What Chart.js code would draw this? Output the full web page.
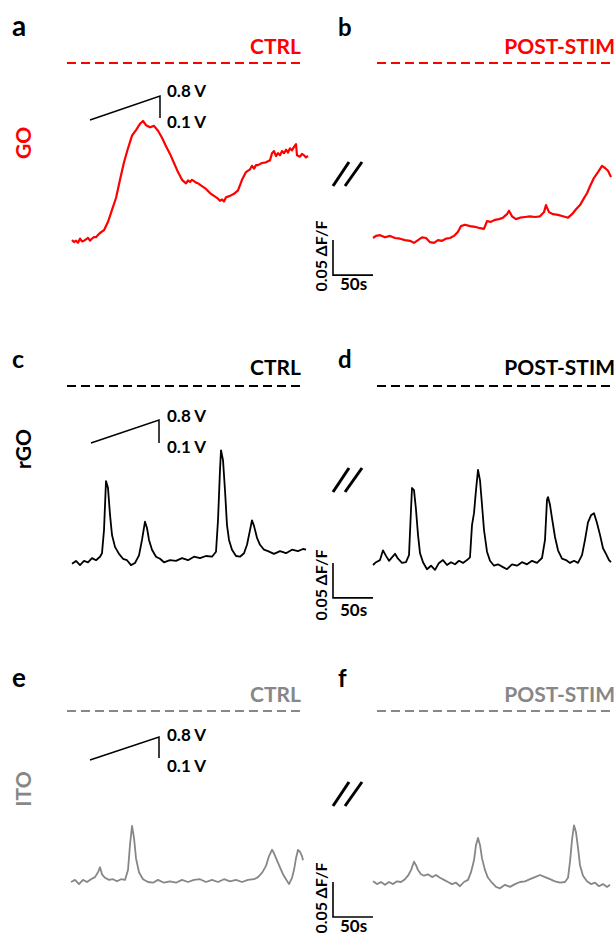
<!DOCTYPE html>
<html><head><meta charset="utf-8">
<script src="https://cdn.jsdelivr.net/npm/chart.js@4.4.1/dist/chart.umd.min.js"></script>
<style>
html,body{margin:0;padding:0;background:#fff;}
body{width:614px;height:936px;overflow:hidden;position:relative;font-family:Lato,"Open Sans",sans-serif;font-weight:700;}
.t{position:absolute;white-space:nowrap;line-height:1;}
canvas{position:absolute;}
</style></head><body>
<script>
// ---------------- DATA ----------------
const panelLetters = ['a','b','c','d','e','f'];
const materials = ['GO','rGO','ITO'];
const conditions = ['CTRL','POST-STIM'];
const rampLabels = ['0.8 V','0.1 V'];
const scaleLabels = ['0.05 ΔF/F','50s'];
const scaleBarSeconds = 50;
const scaleBarDff = 0.05;

// a: GO, CTRL  (time in s, ΔF/F)
const tA = [0,2.5,5,7.5,10,12.5,15,17.5,20,22.5,25,27.5,30,32.5,35,40,45,50,55,60,65,70,75,80,85,88.75,92.5,97.5,102.5,107.5,112.5,117.5,122.5,127.5,132.5,137.5,142.5,145,147.5,150,152.5,155,157.5,162.5,167.5,172.5,177.5,182.5,185,187.5,190,192.5,197.5,202.5,207.5,212.5,217.5,222.5,225,227.5,230,232.5,237.5,242.5,247.5,250,252.5,255,257.5,260,262.5,265,267.5,270,272.5,275,277.5,280,281.25,285,287.5,290,292.5,295];
const vA = [0,-0.003,-0.001,-0.004,0.002,-0.002,-0.001,0.001,0.003,-0.001,0.002,0.004,0.004,0.007,0.010,0.014,0.026,0.043,0.060,0.086,0.111,0.131,0.149,0.157,0.166,0.170,0.164,0.161,0.163,0.156,0.146,0.134,0.123,0.110,0.097,0.086,0.081,0.085,0.083,0.086,0.084,0.082,0.081,0.077,0.073,0.067,0.063,0.059,0.056,0.058,0.055,0.061,0.063,0.066,0.071,0.086,0.097,0.101,0.106,0.102,0.107,0.107,0.110,0.111,0.114,0.124,0.127,0.120,0.124,0.121,0.127,0.124,0.129,0.125,0.131,0.128,0.133,0.137,0.121,0.119,0.123,0.121,0.118,0.120];

// b: GO, POST-STIM
const tB = [0,3.75,8.75,15,21.25,27.5,33.75,40,46.25,51.25,56.25,61.25,66.25,71.25,76.25,81.25,86.25,91.25,96.25,101.25,106.25,110,115,121.25,127.5,133.75,138.75,142.5,147.5,152.5,157.5,162.5,167.5,170,173.75,178.75,183.75,190,196.25,202.5,208.75,213.75,216.25,220,225,231.25,237.5,243.75,248.75,253.75,258.75,263.75,267.5,271.25,276.25,281.25,286.25,290,293.75,297.5];
const vB = [0,0.003,0.004,0.001,0.003,0,-0.001,-0.003,-0.004,-0.007,-0.003,0.001,0,-0.006,-0.007,-0.003,-0.004,-0.001,0,0.003,0.009,0.017,0.019,0.017,0.016,0.014,0.013,0.024,0.023,0.026,0.027,0.029,0.034,0.039,0.031,0.027,0.029,0.030,0.031,0.030,0.031,0.037,0.047,0.037,0.034,0.033,0.031,0.029,0.034,0.041,0.047,0.057,0.064,0.074,0.086,0.094,0.103,0.100,0.096,0.087];

// c: rGO, CTRL
const tC = [0,5,10,15,20,25,30,35,37.5,40,42.5,45,47.5,50,53.75,58.75,63.75,68.75,73.75,78.75,83.75,87.5,91.25,93.75,96.25,100,105,110,115,122.5,130,137.5,145,152.5,160,167.5,175,180,182.5,185,186.25,188.75,191.25,193.75,196.25,200,205,210,215,218.75,222.5,225,227.5,231.25,235,240,245,252.5,260,267.5,275,282.5,288.75,292.5];
const vC = [-0.001,0.003,-0.003,0.003,0.001,0.007,0.004,0.009,0.014,0.047,0.117,0.107,0.069,0.040,0.023,0.013,0.006,0.004,-0.003,0,0.011,0.033,0.059,0.050,0.033,0.019,0.009,0.006,0.001,0.004,0.003,0.007,0.004,0.009,0.007,0.010,0.009,0.016,0.061,0.133,0.161,0.147,0.104,0.054,0.033,0.019,0.010,0.009,0.014,0.026,0.047,0.061,0.053,0.036,0.026,0.019,0.017,0.013,0.017,0.014,0.019,0.017,0.020,0.019];

// d: rGO, POST-STIM
const tD = [0,3.75,8.75,12.5,16.25,20,23.75,27.5,31.25,36.25,41.25,45,47.5,48.75,51.25,53.75,56.25,58.75,62.5,67.5,72.5,77.5,82.5,87.5,92.5,97.5,102.5,107.5,112.5,117.5,121.25,123.75,126.25,128.75,131.25,133.75,136.25,138.75,142.5,146.25,151.25,156.25,162.5,167.5,173.75,180,186.25,192.5,198.75,205,211.25,215,217.5,218.75,221.25,223.75,227.5,231.25,236.25,241.25,246.25,251.25,256.25,261.25,265,268.75,272.5,276.25,280,283.75,287.5,291.25,295,297.5];
const vD = [0,0.004,0.007,0.021,0.013,0.006,0.011,0.016,0.009,0.003,0.004,0.014,0.079,0.110,0.107,0.079,0.043,0.017,0.004,-0.006,-0.001,-0.007,0.003,0.007,0,0.004,0.001,0.006,0.003,0.007,0.011,0.057,0.074,0.107,0.136,0.121,0.086,0.050,0.019,0.006,-0.001,0.001,-0.003,-0.006,0.001,-0.001,0.004,0.001,0.006,0.003,0.010,0.036,0.093,0.097,0.086,0.067,0.040,0.021,0.009,0.007,0.003,0.006,0.003,0.014,0.036,0.061,0.071,0.074,0.060,0.043,0.024,0.016,0.007,0.004];

// e: ITO, CTRL
const tE = [-1.25,3.75,8.75,13.75,18.75,23.75,28.75,32.5,35,37.5,41.25,46.25,51.25,56.25,61.25,66.25,70,72.5,75,77.5,80,83.75,88.75,95,101.25,107.5,115,122.5,130,137.5,145,152.5,160,167.5,175,182.5,190,197.5,205,212.5,220,227.5,232.5,237.5,242.5,246.25,250,252.5,256.25,260,263.75,267.5,271.25,275,277.5,280,282.5,285,287.5,288.75];
const vE = [0,0.003,-0.003,0.003,0,0.004,0.007,0.014,0.021,0.011,0.006,0.003,0.004,0.001,0.004,0.003,0.017,0.053,0.080,0.063,0.034,0.014,0.004,0,-0.001,0.003,-0.001,0.001,-0.001,0.003,0,0.003,0.004,0,0.003,0,0.004,0.001,0.003,0,0.003,0.004,0.007,0.013,0.023,0.037,0.046,0.041,0.031,0.021,0.011,0.004,-0.003,0.006,0.017,0.034,0.046,0.043,0.037,0.031];

// f: ITO, POST-STIM
const tF = [0,5,10,15,20,25,30,35,40,43.75,47.5,51.25,53.75,56.25,60,63.75,68.75,73.75,78.75,83.75,88.75,93.75,98.75,103.75,108.75,113.75,118.75,122.5,126.25,128.75,131.25,133.75,136.25,140,143.75,148.75,153.75,158.75,165,171.25,177.5,183.75,190,196.25,202.5,208.75,215,221.25,227.5,233.75,240,243.75,246.25,248.75,251.25,253.75,256.25,258.75,262.5,267.5,272.5,277.5,282.5,287.5,292.5,296.25];
const vF = [0.001,-0.003,0,-0.004,0,-0.003,0.001,0,0.004,0.009,0.017,0.029,0.024,0.017,0.011,0.009,0.011,0.007,0.010,0.006,0.003,0,-0.003,-0.001,-0.006,0,0.003,0.014,0.031,0.053,0.063,0.053,0.034,0.017,0.006,-0.001,-0.007,-0.009,-0.004,-0.007,-0.003,0,0.001,0.004,0.007,0.010,0.007,0.004,0.001,-0.001,0,0.006,0.029,0.060,0.081,0.071,0.049,0.024,0.009,0.001,-0.003,-0.001,-0.006,-0.003,-0.007,-0.004];

// ---------------- LAYOUT / STYLE ----------------
const RED = '#ff0000', BLACK = '#000000', GRAY = '#878787';
const PX_PER_S = 0.8, PX_PER_UNIT = 700;
const rowColors = [RED, BLACK, GRAY];
const rowWidths = [2.2, 1.8, 1.8];
const rows = [
  {top:50,  h:240, letterBase:36,  condBase:54,  v08:97,  v01:128, matCy:142.5, dffCy:255.5, s50Base:290, dashY:63,  ramp:[90,120,160,96,118],  brk:162},
  {top:373, h:240, letterBase:368, condBase:375, v08:422, v01:453, matCy:448.5, dffCy:584.5, s50Base:616, dashY:386, ramp:[91,443,159,420,443], brk:468},
  {top:698, h:238, letterBase:687, condBase:702, v08:741, v01:772, matCy:789,   dffCy:897.5, s50Base:932, dashY:711, ramp:[90,760,159,737,758], brk:782}
];
const letterSizes = [28,24,25,24,26,24];
const panels = [
  {t:tA, v:vA, row:0, side:0, x0:72,  base:240, bar:null},
  {t:tB, v:vB, row:0, side:1, x0:373, base:238, bar:{t:-50, v:-0.053}},
  {t:tC, v:vC, row:1, side:0, x0:72,  base:563, bar:null},
  {t:tD, v:vD, row:1, side:1, x0:373, base:565, bar:{t:-50, v:-0.047}},
  {t:tE, v:vE, row:2, side:0, x0:72,  base:882, bar:null},
  {t:tF, v:vF, row:2, side:1, x0:373, base:882, bar:{t:-50, v:-0.050}}
];
const sides = [
  {left:60,  w:254, dash:[67,305], letterX:12,  condRight:301},
  {left:300, w:314, dash:[377,614], letterX:338, condRight:615}
];

// ---------------- TEXT ----------------
function txt(s, x, base, size, color, align){
  const d = document.createElement('div');
  d.className = 't'; d.textContent = s;
  d.style.fontSize = size + 'px'; d.style.color = color;
  d.style.top = (base - 0.887*size) + 'px';
  document.body.appendChild(d);
  if (align === 'right') d.style.left = (x - d.getBoundingClientRect().width) + 'px';
  else d.style.left = x + 'px';
  return d;
}
function rtxt(s, cx, cy, size, color){
  const d = document.createElement('div');
  d.className = 't'; d.textContent = s;
  d.style.fontSize = size + 'px'; d.style.color = color;
  d.style.left = cx + 'px'; d.style.top = cy + 'px';
  d.style.transform = 'translate(-50%,-50%) rotate(-90deg)';
  document.body.appendChild(d);
}

panels.forEach((p,i) => {
  const r = rows[p.row], s = sides[p.side], col = rowColors[p.row];
  txt(panelLetters[i], s.letterX, r.letterBase, letterSizes[i], BLACK);
  txt(conditions[p.side], s.condRight, r.condBase, 21, col, 'right');
  if (p.side === 0) {
    txt(rampLabels[0], 167, r.v08, 17, BLACK);
    txt(rampLabels[1], 167, r.v01, 17, BLACK);
    rtxt(materials[p.row], 21.5, r.matCy, 21, col);
  } else {
    rtxt(scaleLabels[0], 321, r.dffCy, 16, BLACK);
    txt(scaleLabels[1], 340, r.s50Base, 17, BLACK);
  }
});

// ---------------- CHARTS ----------------
function makeDeco(p){
  const r = rows[p.row], s = sides[p.side], col = rowColors[p.row];
  return {
    id: 'deco',
    afterDatasetsDraw(chart){
      const ctx = chart.ctx, L = s.left, T = r.top;
      ctx.save();
      ctx.lineCap = 'butt';
      ctx.strokeStyle = col; ctx.lineWidth = 2; ctx.setLineDash([9,5]);
      ctx.beginPath(); ctx.moveTo(s.dash[0]-L, r.dashY-T); ctx.lineTo(s.dash[1]-L, r.dashY-T); ctx.stroke();
      ctx.setLineDash([]);
      ctx.strokeStyle = BLACK;
      if (p.side === 0) {
        const q = r.ramp;
        ctx.lineWidth = 1.5;
        ctx.beginPath(); ctx.moveTo(q[0]-L, q[1]-T); ctx.lineTo(q[2]-L, q[3]-T); ctx.lineTo(q[2]-L, q[4]-T); ctx.stroke();
      } else {
        ctx.lineWidth = 3;
        const y1 = r.brk - T, y2 = r.brk + 24 - T;
        ctx.beginPath(); ctx.moveTo(333-L, y2); ctx.lineTo(349-L, y1); ctx.stroke();
        ctx.beginPath(); ctx.moveTo(345-L, y2); ctx.lineTo(362-L, y1); ctx.stroke();
        const xs = chart.scales.x, ys = chart.scales.y;
        const bx1 = xs.getPixelForValue(p.bar.t), bx2 = xs.getPixelForValue(p.bar.t + scaleBarSeconds);
        const by1 = ys.getPixelForValue(p.bar.v), by2 = ys.getPixelForValue(p.bar.v + scaleBarDff);
        ctx.lineWidth = 1.6;
        ctx.beginPath(); ctx.moveTo(bx1, by2); ctx.lineTo(bx1, by1); ctx.lineTo(bx2, by1); ctx.stroke();
      }
      ctx.restore();
    }
  };
}

panels.forEach((p) => {
  const r = rows[p.row], s = sides[p.side], col = rowColors[p.row];
  const cv = document.createElement('canvas');
  cv.width = s.w; cv.height = r.h;
  cv.style.left = s.left + 'px'; cv.style.top = r.top + 'px';
  cv.style.width = s.w + 'px'; cv.style.height = r.h + 'px';
  document.body.appendChild(cv);
  new Chart(cv, {
    type: 'line',
    data: { datasets: [{ data: p.t.map((t,k) => ({x:t, y:p.v[k]})), borderColor: col, borderWidth: rowWidths[p.row], pointRadius: 0, tension: 0, fill: false, borderJoinStyle: 'round' }] },
    options: {
      responsive: false, animation: false, devicePixelRatio: 1,
      layout: { padding: 0 },
      plugins: { legend: {display:false}, tooltip: {enabled:false} },
      scales: {
        x: { type:'linear', display:false, min:(s.left - p.x0)/PX_PER_S, max:(s.left + s.w - p.x0)/PX_PER_S },
        y: { type:'linear', display:false, min:(p.base - r.top - r.h)/PX_PER_UNIT, max:(p.base - r.top)/PX_PER_UNIT }
      }
    },
    plugins: [makeDeco(p)]
  });
});
</script>
</body></html>
